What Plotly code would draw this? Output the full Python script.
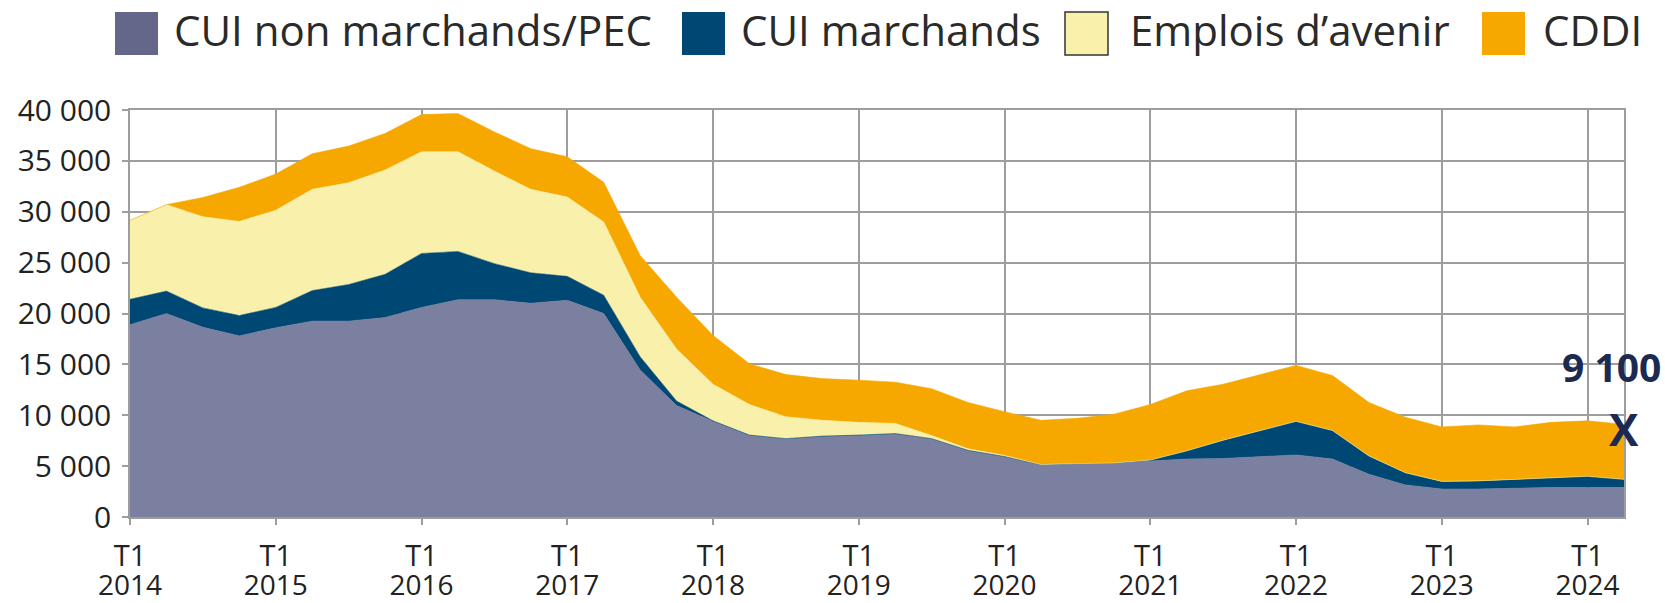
import plotly.graph_objects as go

# ---------------- data ----------------
quarters = [f"T{q} {y}" for y in range(2014, 2025) for q in range(1, 5)][:42]

cui_non_marchands = [18900, 20000, 18650, 17800, 18600, 19250, 19250, 19600,
                     20600, 21350, 21350, 21000, 21300, 20000, 14450, 10950,
                     9400, 8000, 7650, 7900, 8000, 8150, 7650, 6500,
                     5900, 5100, 5200, 5250, 5500, 5700, 5750, 5950,
                     6100, 5700, 4200, 3150, 2750, 2750, 2850, 2900,
                     2900, 2900]
cui_marchands = [2500, 2200, 1900, 2000, 2000, 3000, 3600, 4250,
                 5300, 4750, 3550, 3000, 2350, 1800, 1300, 450,
                 50, 50, 50, 50, 50, 50, 50, 50,
                 50, 50, 50, 50, 100, 800, 1800, 2550,
                 3300, 2800, 1800, 1200, 750, 800, 850, 1000,
                 1100, 800]
emplois_avenir = [7750, 8500, 8950, 9250, 9550, 9950, 10000, 10250,
                  10000, 9800, 9100, 8200, 7800, 7200, 5850, 5100,
                  3600, 3000, 2150, 1550, 1250, 1000, 300, 150,
                  100, 0, 0, 0, 0, 0, 0, 0,
                  0, 0, 0, 0, 0, 0, 0, 0,
                  0, 0]
cddi = [0, 0, 1900, 3350, 3550, 3500, 3600, 3600,
        3650, 3750, 3850, 4000, 3950, 3900, 4100, 5100,
        4800, 4000, 4150, 4100, 4150, 4050, 4600, 4550,
        4300, 4350, 4450, 4800, 5450, 5900, 5500, 5500,
        5500, 5400, 5250, 5450, 5350, 5500, 5150, 5400,
        5450, 5400]

series_names = ["CUI non marchands/PEC", "CUI marchands", "Emplois d’avenir", "CDDI"]
series_values = [cui_non_marchands, cui_marchands, emplois_avenir, cddi]

# ---------------- styles ----------------
area_colors = ["#7b7fa0", "#004874", "#f9f1ab", "#f6a800"]
legend_colors = ["#65678a", "#004874", "#f9f1ab", "#f6a800"]
legend_borders = ["#65678a", "#004874", "#333333", "#f6a800"]
grid_col = "#9d9d9d"
text_col = "#222222"
label_col = "#1c2a52"
FONT = "Open Sans"

W, H = 1665, 603
ML, MR, MT, MB = 130, 41, 110, 86
PW, PH = W - ML - MR, H - MT - MB

def px_x(p):  # page pixel -> paper x
    return (p - ML) / PW

def px_y(p):  # page pixel -> paper y
    return (H - MB - p) / PH

xs = list(range(len(quarters)))
tick_idx = [i for i, q in enumerate(quarters) if q.startswith("T1")]
tick_top = [quarters[i].split()[0] for i in tick_idx]
tick_bottom = [quarters[i].split()[1] for i in tick_idx]

fig = go.Figure()
for name, vals, col in zip(series_names, series_values, area_colors):
    fig.add_trace(go.Scatter(
        x=xs, y=vals, name=name, stackgroup="one", mode="lines",
        line=dict(width=0.6, color=col), fillcolor=col, showlegend=False,
        hoverinfo="skip"))

totals = [sum(v) for v in zip(*series_values)]
last = len(xs) - 1

# invisible total trace carried by the second (year-label) x axis
fig.add_trace(go.Scatter(x=xs, y=totals, mode="none", xaxis="x2", yaxis="y",
                         showlegend=False, hoverinfo="skip"))

# end-point marker "X" and its value
fig.add_annotation(
    x=xs[last], y=totals[last], xref="x", yref="y", text="X", showarrow=False,
    yshift=-5, font=dict(family=FONT, size=44, color=label_col, weight="bold"))
fig.add_annotation(
    x=xs[last], y=totals[last], xref="x", yref="y",
    text=f"{totals[last]:,}".replace(",", " "), showarrow=False,
    xshift=-13, yshift=58,
    font=dict(family=FONT, size=39, color=label_col, weight="bold"))

# custom legend (big squares)
leg_sq_x = [115, 682, 1065, 1482]
leg_txt_x = [172, 739, 1128, 1541]
for name, sx, tx, fc, bc in zip(series_names, leg_sq_x, leg_txt_x, legend_colors, legend_borders):
    fig.add_shape(type="rect", xref="paper", yref="paper",
                  x0=px_x(sx), x1=px_x(sx + 43), y0=px_y(55), y1=px_y(12),
                  fillcolor=fc, line=dict(color=bc, width=1.5 if bc != fc else 0))
    fig.add_annotation(xref="paper", yref="paper", x=px_x(tx), y=px_y(29),
                       xanchor="left", yanchor="middle", showarrow=False,
                       text=name, font=dict(family=FONT, size=42, color="#2a2a2a"))

fig.update_layout(
    width=W, height=H,
    margin=dict(l=ML, r=MR, t=MT, b=MB, pad=0, autoexpand=False),
    paper_bgcolor="white", plot_bgcolor="white",
    separators=", ",
    showlegend=False,
    xaxis=dict(range=[0, last], tickmode="array", tickvals=tick_idx, ticktext=tick_top,
               showgrid=True, gridcolor=grid_col, gridwidth=1.5,
               showline=True, linecolor=grid_col, linewidth=1.5, mirror=True,
               ticks="outside", ticklen=6, tickcolor=grid_col, tickwidth=1.5,
               tickfont=dict(family=FONT, size=29, color=text_col),
               ticklabelstandoff=6, zeroline=False, automargin=False),
    xaxis2=dict(range=[0, last], overlaying="x", anchor="y", side="bottom",
                tickmode="array", tickvals=tick_idx, ticktext=tick_bottom,
                showgrid=False, showline=False, ticks="", zeroline=False,
                tickfont=dict(family=FONT, size=28, color=text_col),
                ticklabelstandoff=49, automargin=False),
    yaxis=dict(range=[0, 40000], dtick=5000, tickformat=",d",
               showgrid=True, gridcolor=grid_col, gridwidth=1.5,
               showline=True, linecolor=grid_col, linewidth=1.5, mirror=True,
               ticks="outside", ticklen=6, tickcolor=grid_col, tickwidth=1.5,
               tickfont=dict(family=FONT, size=30, color=text_col),
               ticklabelstandoff=5, zeroline=False, automargin=False),
)

# the page body has a default 8px margin; remove it so the figure fills the window
fig.write_html("out.html", config={"displayModeBar": False},
               post_script="document.body.style.margin='0';document.body.style.overflow='hidden';")
